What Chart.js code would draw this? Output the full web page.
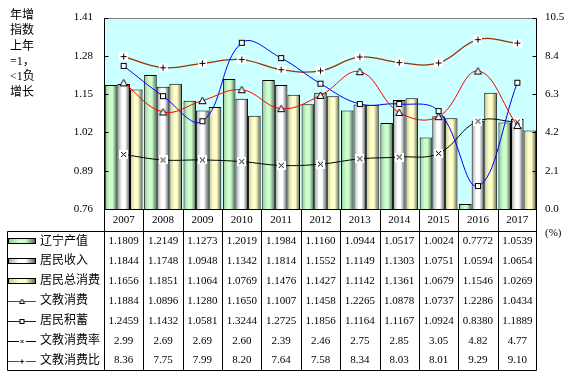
<!DOCTYPE html>
<html><head><meta charset="utf-8">
<script src="https://cdn.jsdelivr.net/npm/chart.js@4"></script>
<style>html,body{margin:0;padding:0;background:#fff}canvas{display:block}</style>
</head><body>
<canvas id="c" width="576" height="376"></canvas>
<script>
const years = ['2007','2008','2009','2010','2011','2012','2013','2014','2015','2016','2017'];
const gdpIndex        = [1.1809,1.2149,1.1273,1.2019,1.1984,1.1160,1.0944,1.0517,1.0024,0.7772,1.0539];
const incomeIndex     = [1.1844,1.1748,1.0948,1.1342,1.1814,1.1552,1.1149,1.1303,1.0751,1.0594,1.0654];
const consumeIndex    = [1.1656,1.1851,1.1064,1.0769,1.1476,1.1427,1.1142,1.1361,1.0679,1.1546,1.0269];
const eduSpendIndex   = [1.1884,1.0896,1.1280,1.1650,1.1007,1.1458,1.2265,1.0878,1.0737,1.2286,1.0434];
const savingsIndex    = [1.2459,1.1432,1.0581,1.3244,1.2725,1.1856,1.1164,1.1167,1.0924,0.8380,1.1889];
const eduSpendRate    = [2.99,2.69,2.69,2.60,2.39,2.46,2.75,2.85,3.05,4.82,4.77];
const eduSpendRatio   = [8.36,7.75,7.99,8.20,7.64,7.58,8.34,8.03,8.01,9.29,9.10];
const leftTicks  = [0.76,0.89,1.02,1.15,1.28,1.41];
const rightTicks = [0,2.1,4.2,6.3,8.4,10.5];
const seriesNames = ['辽宁产值','居民收入','居民总消费','文教消费','居民积蓄','文教消费率','文教消费比'];
const leftNote = ['年增','指数','上年','=1，','<1负','增长'];
const unitLabel = '(%)';

const NUMFONT = "11px 'Liberation Serif', serif";
const CJKFONT = "12px 'Liberation Serif','Noto Sans CJK SC', sans-serif";

// gradient palettes for bars: [edge, light, dark]
const barPalettes = [
  ['#99c299','#ccffcc','#4a5e4a'],
  ['#a0a0a0','#ffffff','#505050'],
  ['#c4c494','#ffffcc','#626244']
];
function makeGrad(ctx, x0, x1, pal){
  const g = ctx.createLinearGradient(x0,0,x1,0);
  g.addColorStop(0, pal[0]);
  g.addColorStop(0.38, pal[1]);
  g.addColorStop(0.62, pal[1]);
  g.addColorStop(1, pal[2]);
  return g;
}

function marker(type, s){
  const c = document.createElement('canvas');
  c.width = s; c.height = s;
  const g = c.getContext('2d');
  g.strokeStyle = '#000'; g.lineWidth = 1; g.fillStyle = '#fff';
  const m = s/2;
  if (type === 'plus'){
    g.fillRect(0,0,s,s);
    g.beginPath(); g.moveTo(m,1.5); g.lineTo(m,s-1.5); g.moveTo(1.5,m); g.lineTo(s-1.5,m); g.stroke();
  } else if (type === 'cross'){
    g.fillRect(0,0,s,s);
    g.beginPath(); g.moveTo(2,2); g.lineTo(s-2,s-2); g.moveTo(s-2,2); g.lineTo(2,s-2); g.stroke();
  } else if (type === 'tri'){
    g.beginPath(); g.moveTo(m,1); g.lineTo(s-1,s-1.5); g.lineTo(1,s-1.5); g.closePath(); g.fill(); g.stroke();
  } else if (type === 'square'){
    g.fillRect(1,1,s-2,s-2);
    g.strokeRect(1.5,1.5,s-3,s-3);
  }
  return c;
}
const mTri = marker('tri',9), mSq = marker('square',8), mX = marker('cross',9), mPlus = marker('plus',9);
const smTri = marker('tri',7), smSq = marker('square',7), smX = marker('cross',7), smPlus = marker('plus',7);

const barGradientPlugin = {
  id:'barGrad',
  beforeDatasetsDraw(chart){
    const ctx = chart.ctx;
    for (let d = 0; d < 3; d++){
      const meta = chart.getDatasetMeta(d);
      meta.data.forEach(el => {
        const g = makeGrad(ctx, el.x - el.width/2, el.x + el.width/2, barPalettes[d]);
        el.options = Object.assign({}, el.options, {backgroundColor: g});
      });
    }
  }
};

const frame = {
  id:'frame',
  beforeDraw(chart){
    const {ctx, chartArea:a} = chart;
    ctx.save();
    ctx.fillStyle = '#ccffff';
    ctx.fillRect(a.left, a.top, a.right-a.left, a.bottom-a.top);
    ctx.restore();
  },
  afterDatasetsDraw(chart){
    const {ctx, chartArea:a} = chart;
    const L = Math.round(a.left)+0.5, R = Math.round(a.right)-0.5, T = Math.round(a.top)+0.5, B = Math.round(a.bottom)+0.5;
    ctx.save();
    ctx.lineWidth = 1;
    ctx.strokeStyle = '#808080';
    ctx.beginPath(); ctx.moveTo(L,T); ctx.lineTo(R,T); ctx.stroke();
    ctx.strokeStyle = '#000';
    ctx.beginPath();
    ctx.moveTo(L,T); ctx.lineTo(L,B);
    ctx.moveTo(R,T); ctx.lineTo(R,B);
    ctx.moveTo(L,B); ctx.lineTo(R,B);
    const yl = chart.scales.y, yr = chart.scales.y1;
    leftTicks.forEach(v => { const y = Math.round(yl.getPixelForValue(v))+0.5; ctx.moveTo(L,y); ctx.lineTo(L+4,y); });
    rightTicks.forEach(v => { const y = Math.round(yr.getPixelForValue(v))+0.5; ctx.moveTo(R-4,y); ctx.lineTo(R,y); });
    ctx.stroke();
    ctx.restore();
  },
  afterDraw(chart){
    const {ctx, chartArea:a} = chart;
    const xs = chart.scales.x;
    const n = years.length;
    const L = a.left, R = a.right, w = (R-L)/n;
    const axisY = Math.round(a.bottom);
    const tTop = 231, tBot = 370, rowH = (tBot - tTop)/7;
    ctx.save();
    ctx.strokeStyle = '#000'; ctx.lineWidth = 1;
    ctx.beginPath();
    for (let i = 0; i <= n; i++){
      let x = Math.round(L + i*w) + 0.5;
      if (i === n) x = Math.round(R) - 0.5;
      ctx.moveTo(x, axisY); ctx.lineTo(x, tBot+0.5);
    }
    ctx.moveTo(7.5, tTop+0.5); ctx.lineTo(Math.round(R)-0.5, tTop+0.5);
    ctx.moveTo(7.5, tBot+0.5); ctx.lineTo(Math.round(R)-0.5, tBot+0.5);
    ctx.moveTo(7.5, tTop+0.5); ctx.lineTo(7.5, tBot+0.5);
    ctx.stroke();

    ctx.fillStyle = '#000';
    ctx.textBaseline = 'middle';
    ctx.textAlign = 'center';
    ctx.font = NUMFONT;
    years.forEach((yv,i) => ctx.fillText(yv, xs.getPixelForValue(i), 220));

    const rows = [gdpIndex, incomeIndex, consumeIndex, eduSpendIndex, savingsIndex, eduSpendRate, eduSpendRatio];
    rows.forEach((arr, r) => {
      const cy = tTop + (r+0.5)*rowH + 0.5;
      const dec = r < 5 ? 4 : 2;
      ctx.textAlign = 'center'; ctx.font = NUMFONT; ctx.fillStyle = '#000';
      arr.forEach((v,i) => ctx.fillText(v.toFixed(dec), xs.getPixelForValue(i), cy));
      // legend key
      const kx0 = 8, kx1 = 36;
      if (r < 3){
        ctx.fillStyle = makeGrad(ctx, kx0, kx1, barPalettes[r]);
        ctx.fillRect(kx0, Math.round(cy)-3, kx1-kx0, 6);
        ctx.strokeStyle = '#000';
        ctx.strokeRect(kx0+0.5, Math.round(cy)-3+0.5, kx1-kx0-1, 5);
      } else {
        const col = ['#ff0000','#0000ff','#000000','#993300'][r-3];
        const img = [smTri, smSq, smX, smPlus][r-3];
        ctx.strokeStyle = col; ctx.lineWidth = 1;
        ctx.beginPath(); ctx.moveTo(kx0, Math.round(cy)+0.5); ctx.lineTo(kx1, Math.round(cy)+0.5); ctx.stroke();
        ctx.drawImage(img, 22 - img.width/2, Math.round(cy) + 0.5 - img.height/2);
      }
      ctx.fillStyle = '#000';
      ctx.textAlign = 'left'; ctx.font = CJKFONT;
      ctx.fillText(seriesNames[r], 40, cy);
    });

    ctx.textAlign = 'left'; ctx.font = CJKFONT;
    leftNote.forEach((t,i) => ctx.fillText(t, 10, 16 + i*15.3));
    ctx.font = NUMFONT;
    ctx.fillText(unitLabel, 545, 233);
    ctx.restore();
  }
};

function barDs(label, data, idx){
  return {type:'bar', label, data, yAxisID:'y', order:2,
    backgroundColor: () => barPalettes[idx][1],
    borderColor:'#000', borderWidth:1, borderSkipped:false,
    categoryPercentage:0.96, barPercentage:1.0};
}
function lineDs(label, data, axis, color, img, width){
  return {type:'line', label, data, yAxisID:axis, order:1,
    borderColor:color, borderWidth:width, tension:0.4, fill:false,
    pointStyle:img, pointRadius:4, pointHoverRadius:4};
}

new Chart(document.getElementById('c'), {
  data:{
    labels: years,
    datasets:[
      barDs(seriesNames[0], gdpIndex, 0),
      barDs(seriesNames[1], incomeIndex, 1),
      barDs(seriesNames[2], consumeIndex, 2),
      lineDs(seriesNames[3], eduSpendIndex, 'y', '#ff0000', mTri, 1),
      lineDs(seriesNames[4], savingsIndex, 'y', '#0000ff', mSq, 1),
      lineDs(seriesNames[5], eduSpendRate, 'y1', '#000000', mX, 1),
      lineDs(seriesNames[6], eduSpendRatio, 'y1', '#993300', mPlus, 1.3)
    ]
  },
  options:{
    responsive:false, animation:false, devicePixelRatio:1,
    layout:{padding:{left:0, right:0, top:15, bottom:167}},
    plugins:{legend:{display:false}, tooltip:{enabled:false}},
    scales:{
      x:{type:'category', display:false, offset:true},
      y:{position:'left', min:0.76, max:1.41,
        afterBuildTicks(s){ s.ticks = leftTicks.map(v => ({value:v})); },
        afterFit(s){ s.width = 104; },
        grid:{display:false, drawTicks:false}, border:{display:false},
        ticks:{padding:11, color:'#000', font:{family:"'Liberation Serif', serif", size:11},
          callback:v => Number(v).toFixed(2)}},
      y1:{position:'right', min:0, max:10.5,
        afterBuildTicks(s){ s.ticks = rightTicks.map(v => ({value:v})); },
        afterFit(s){ s.width = 39; },
        grid:{display:false, drawTicks:false}, border:{display:false},
        ticks:{padding:8, color:'#000', font:{family:"'Liberation Serif', serif", size:11},
          callback:v => Number(v).toFixed(1)}}
    }
  },
  plugins:[barGradientPlugin, frame]
});
</script>
</body></html>
